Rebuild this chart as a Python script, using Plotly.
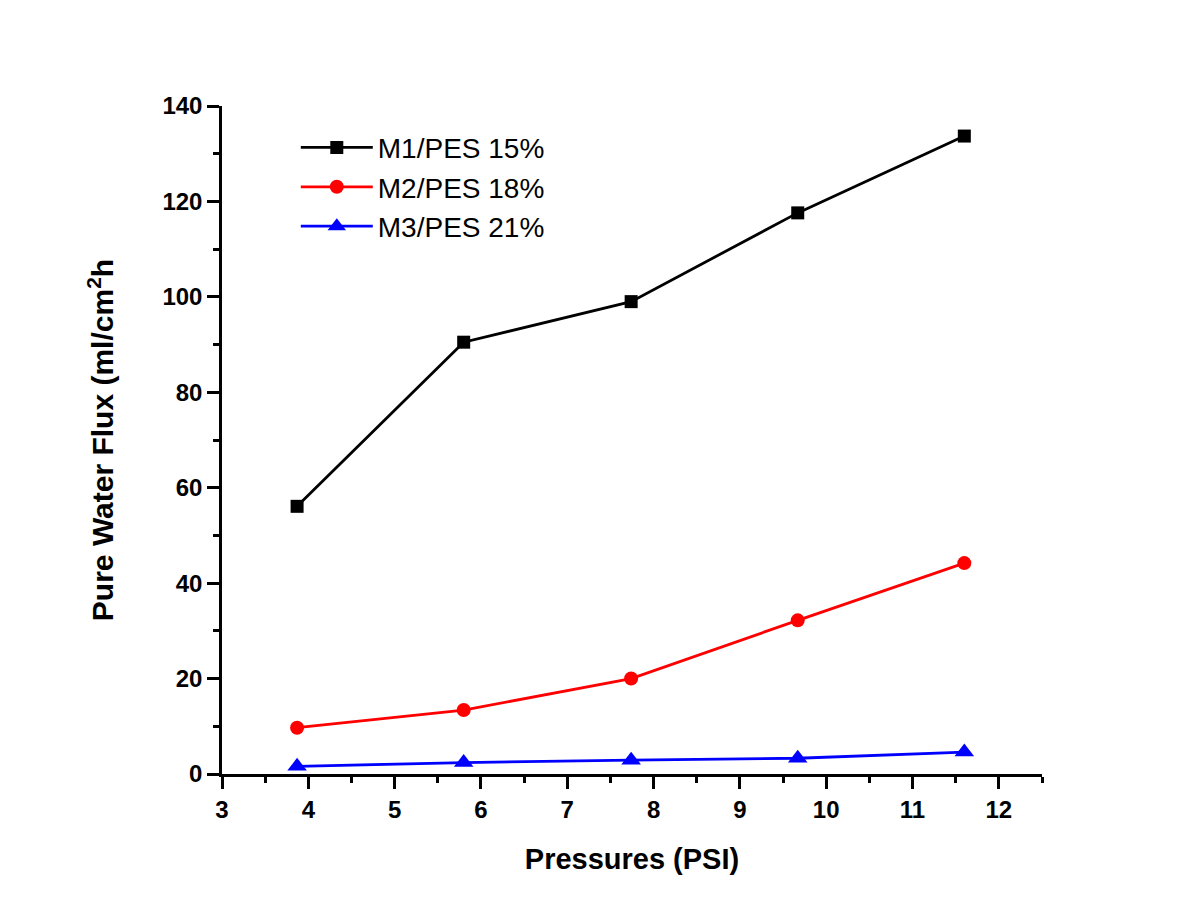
import plotly.graph_objects as go

pressure = [3.87, 5.80, 7.74, 9.67, 11.60]
m1 = [56.1, 90.5, 99.0, 117.6, 133.7]
m2 = [9.7, 13.4, 20.0, 32.2, 44.2]
m3 = [1.6, 2.4, 2.9, 3.3, 4.6]

names = ["M1/PES 15%", "M2/PES 18%", "M3/PES 21%"]
colors = ["#000000", "#ff0000", "#0000ff"]
symbols = ["square", "circle", "triangle-up"]
sizes = [13, 14, 17]

fig = go.Figure()
for y, n, c, s, sz in zip([m1, m2, m3], names, colors, symbols, sizes):
    fig.add_trace(go.Scatter(
        x=pressure, y=y, name=n, mode="lines+markers",
        line=dict(color=c, width=2.8),
        marker=dict(symbol=s, size=sz, color=c),
    ))

axis_common = dict(
    showline=True, linecolor="black", linewidth=2.5,
    ticks="outside", ticklen=12, tickwidth=2.5, tickcolor="black",
    showgrid=False, zeroline=False, mirror=False,
    tickfont=dict(family="Arial, Liberation Sans", size=24, color="black", weight="bold"),
)

fig.update_xaxes(
    range=[3, 12.5], dtick=1, tick0=3,
    minor=dict(ticks="outside", ticklen=6, tickwidth=2.5, tickcolor="black", dtick=0.5),
    title=dict(text="<b>Pressures (PSI)</b>", font=dict(family="Arial, Liberation Sans", size=29, color="black"), standoff=28),
    **axis_common,
)
fig.update_yaxes(
    range=[0, 140], dtick=20,
    minor=dict(ticks="outside", ticklen=6, tickwidth=2.5, tickcolor="black", dtick=10),
    title=dict(text="<b>Pure Water Flux (ml/cm<sup>2</sup>h</b>", font=dict(family="Arial, Liberation Sans", size=30, color="black"), standoff=40),
    **axis_common,
)

fig.update_layout(
    width=1203, height=921,
    margin=dict(l=222, r=161, t=106, b=147, autoexpand=False),
    paper_bgcolor="white", plot_bgcolor="white",
    legend=dict(
        x=0.09, y=0.975, xanchor="left", yanchor="top",
        font=dict(family="Arial, Liberation Sans", size=28, color="black"),
        bgcolor="rgba(0,0,0,0)", itemwidth=72, tracegroupgap=0,
    ),
)

fig.write_html("out.html")
